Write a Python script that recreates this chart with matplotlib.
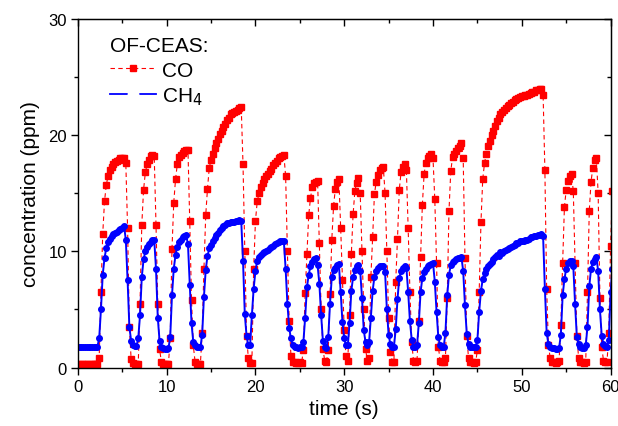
import numpy as np
import matplotlib
matplotlib.use("Agg")
import matplotlib.pyplot as plt
from matplotlib.lines import Line2D

plt.rcParams['font.family'] = ['Liberation Sans', 'DejaVu Sans']

# sampling step of both traces (s)
dt = 0.2

# CO trace (ppm), one value every dt starting at t = 0
co = [
    0.3, 0.3, 0.25, 0.3, 0.3, 0.3, 0.25, 0.3, 0.3, 0.3,
    0.3, 0.3, 0.8, 6.5, 11.5, 14.3, 15.7, 16.5, 17.0, 17.3,
    17.5, 17.7, 17.8, 17.9, 18.0, 18.0, 18.0, 17.6, 12.0, 3.5,
    0.7, 0.35, 0.3, 0.3, 0.3, 5.5, 12.3, 15.3, 16.8, 17.5,
    17.9, 18.2, 18.3, 18.2, 12.3, 5.5, 1.6, 0.5, 0.3, 0.3,
    0.3, 0.3, 2.5, 10.2, 14.2, 16.2, 17.5, 18.1, 18.3, 18.5,
    18.6, 18.7, 18.75, 12.6, 5.8, 1.9, 0.5, 0.3, 0.3, 0.3,
    3.0, 8.5, 13.1, 15.4, 17.2, 17.9, 18.4, 18.9, 19.3, 19.7,
    20.1, 20.4, 20.7, 21.0, 21.3, 21.5, 21.8, 21.9, 22.0, 22.1,
    22.2, 22.3, 22.4, 17.5, 10.0, 2.75, 0.8, 0.35, 0.4, 8.5,
    12.6, 14.3, 15.0, 15.5, 15.9, 16.2, 16.5, 16.7, 16.9, 17.1,
    17.4, 17.6, 17.8, 18.0, 18.1, 18.2, 18.3, 16.5, 10.0, 4.0,
    1.0, 0.5, 0.45, 0.4, 0.4, 0.45, 0.4, 1.5, 6.4, 9.8,
    13.1, 14.6, 15.5, 15.9, 16.0, 16.1, 10.7, 5.0, 1.6, 0.6,
    0.5, 1.5, 6.3, 11.0, 13.9, 15.4, 16.0, 16.2, 12.0, 7.5,
    3.2, 1.0, 0.6, 4.5, 9.8, 13.2, 15.2, 15.9, 16.3, 15.0,
    10.0, 5.0, 1.6, 0.6, 0.8, 7.8, 11.2, 14.9, 16.0, 16.6,
    17.0, 17.2, 17.3, 15.0, 10.0, 4.3, 1.3, 0.5, 0.5, 7.4,
    11.1, 15.3, 16.8, 17.3, 17.5, 17.0, 12.0, 6.5, 2.2, 0.6,
    0.5, 0.6, 4.0, 9.5, 14.0, 16.7, 17.6, 18.0, 18.2, 18.4,
    18.0, 14.5, 9.0, 1.8, 0.6, 0.5, 0.5, 0.8, 6.0, 13.5,
    16.9, 18.1, 18.4, 18.6, 18.9, 19.1, 19.3, 18.0, 9.4, 2.75,
    0.8, 0.45, 0.45, 0.4, 0.45, 1.5, 6.5, 12.5, 16.2, 17.6,
    18.4, 19.1, 19.5, 20.0, 20.4, 20.8, 21.2, 21.5, 21.8, 22.0,
    22.2, 22.35, 22.5, 22.6, 22.75, 22.9, 23.0, 23.1, 23.2, 23.25,
    23.35, 23.4, 23.45, 23.5, 23.55, 23.6, 23.7, 23.75, 23.85, 23.9,
    23.95, 24.0, 23.5, 17.0, 6.8, 1.9, 0.8, 0.45, 0.45, 0.4,
    0.45, 0.6, 3.7, 9.0, 13.8, 15.3, 16.1, 16.5, 16.65, 15.2,
    9.0, 2.75, 0.8, 0.45, 0.45, 0.4, 0.5, 6.5, 13.5, 16.0,
    17.2, 17.9, 18.0, 15.0, 6.0, 1.8, 0.6, 0.45, 0.5, 3.0,
    10.5, 15.2]

# CH4 trace (ppm), same time base
ch4 = [
    1.8, 1.75, 1.8, 1.8, 1.75, 1.8, 1.8, 1.75, 1.8, 1.8,
    1.8, 1.8, 2.5, 5.0, 8.0, 9.4, 10.3, 10.8, 11.1, 11.3,
    11.5, 11.6, 11.7, 11.8, 11.9, 12.0, 12.2, 11.0, 7.5, 3.5,
    2.3, 1.9, 1.85, 1.85, 2.5, 4.5, 7.8, 9.3, 10.0, 10.4,
    10.6, 10.8, 10.95, 11.0, 8.5, 4.3, 2.3, 1.8, 1.7, 1.6,
    1.6, 1.65, 2.6, 6.2, 8.5, 9.7, 10.4, 10.8, 11.0, 11.2,
    11.35, 11.4, 10.6, 7.1, 3.8, 2.2, 1.9, 1.75, 1.75, 1.75,
    2.8, 6.1, 8.4, 9.6, 10.25, 10.55, 10.85, 11.15, 11.45, 11.6,
    11.8, 12.0, 12.15, 12.3, 12.4, 12.45, 12.5, 12.5, 12.55, 12.6,
    12.65, 12.7, 12.6, 9.2, 4.6, 2.7, 1.9, 1.9, 4.5, 6.8,
    8.3, 9.2, 9.5, 9.7, 9.85, 9.95, 10.05, 10.15, 10.3, 10.4,
    10.5, 10.6, 10.7, 10.8, 10.85, 10.9, 10.85, 8.5, 5.5, 3.4,
    2.5, 1.9, 1.75, 1.75, 1.7, 1.75, 1.75, 2.2, 4.3, 6.9,
    8.0, 8.7, 9.05, 9.3, 9.4, 8.8, 7.2, 4.5, 2.3, 1.75,
    1.7, 2.6, 5.5, 7.8, 8.4, 8.6, 8.8, 8.9, 6.5, 3.9,
    2.5, 1.9, 1.9, 3.8, 6.6, 7.8, 8.4, 8.7, 8.8, 8.3,
    6.0, 3.2, 2.2, 1.9, 2.2, 4.3, 6.6, 7.8, 8.35, 8.6,
    8.7, 8.7, 8.7, 8.2, 5.05, 2.8, 2.0, 1.75, 1.8, 3.3,
    5.9, 7.7, 8.3, 8.6, 8.7, 8.6, 6.5, 4.0, 2.4, 1.8,
    1.75, 1.9, 3.8, 6.5, 7.7, 8.2, 8.5, 8.7, 8.8, 8.9,
    9.0, 7.4, 4.8, 2.6, 1.9, 1.75, 1.75, 3.0, 6.2, 8.0,
    8.8, 9.1, 9.2, 9.3, 9.4, 9.45, 9.5, 8.3, 5.35, 2.9,
    2.0, 1.8, 1.8, 1.75, 1.8, 2.4, 4.8, 6.6, 7.6, 8.1,
    8.5, 8.75, 8.9, 9.1, 9.3, 9.5, 9.65, 9.6, 9.95, 9.9,
    10.05, 10.1, 10.2, 10.3, 10.4, 10.5, 10.55, 10.7, 10.75, 10.85,
    10.9, 10.85, 10.95, 11.0, 11.1, 11.2, 11.2, 11.3, 11.35, 11.4,
    11.45, 11.5, 11.3, 6.8, 3.0, 2.0, 1.8, 1.7, 1.65, 1.6,
    1.6, 1.7, 2.8, 6.2, 7.6, 8.5, 9.0, 9.15, 9.2, 8.7,
    5.5, 2.6, 2.0, 1.8, 1.7, 1.65, 1.9, 3.5, 7.0, 8.5,
    9.1, 9.35, 9.5, 8.3, 5.0, 2.75, 2.0, 1.85, 1.8, 2.4,
    6.5, 8.5]

t = np.arange(len(co))*dt  # time axis of the samples (s)

xmajor = [0, 10, 20, 30, 40, 50, 60]
xminor = [5, 15, 25, 35, 45, 55]
ymajor = [0, 10, 20, 30]
yminor = [5, 15, 25]

fig = plt.figure(figsize=(6.18, 4.27), dpi=100)
ax = fig.add_axes([0.126, 0.137, 0.862, 0.816])

# CO first, CH4 drawn over it
ax.plot(t, co, color="#ff0000", lw=0.8, ls=(0, (4, 3)), marker="s",
        ms=3.9, mec="#ff0000", mfc="#ff0000")
ax.plot(t, ch4, color="#0000ff", lw=1.4, ls="-", marker="o",
        ms=4.0, mec="#0000ff", mfc="#0000ff")

ax.set_xlim(0, 60)
ax.set_ylim(0, 30)
ax.set_xticks(xmajor)
ax.set_xticks(xminor, minor=True)
ax.set_yticks(ymajor)
ax.set_yticks(yminor, minor=True)
ax.tick_params(which="both", direction="out", width=1.0, labelsize=12,
               top=False, right=False)
ax.tick_params(which="major", length=5, pad=3)
ax.tick_params(which="minor", length=3)
for sp in ax.spines.values():
    sp.set_linewidth(1.0)

# top and right axes carry inward ticks without labels
axt = ax.secondary_xaxis("top")
axt.set_xticks(xmajor)
axt.set_xticks(xminor, minor=True)
axt.tick_params(which="both", direction="in", labeltop=False, width=1.0)
axt.tick_params(which="major", length=5)
axt.tick_params(which="minor", length=3)
axr = ax.secondary_yaxis("right")
axr.set_yticks(ymajor)
axr.set_yticks(yminor, minor=True)
axr.tick_params(which="both", direction="in", labelright=False, width=1.0)
axr.tick_params(which="major", length=5)
axr.tick_params(which="minor", length=3)

ax.set_xlabel("time (s)", fontsize=15, labelpad=4)
ax.set_ylabel("concentration (ppm)", fontsize=15, labelpad=6)

# legend handles: CH4 line is broken around its marker as in the original
handles = [
    Line2D([], [], color="#ff0000", lw=0.8, ls=(0, (4, 3)), marker="s",
           ms=4, mec="#ff0000", mfc="#ff0000"),
    Line2D([], [], color="#0000ff", lw=1.3, ls="-", marker="o",
           ms=4, mec="white", mew=4.5, mfc="#0000ff"),
]
leg = ax.legend(handles, ["CO", "CH$_4$"], title="OF-CEAS:", loc="upper left",
                bbox_to_anchor=(0.06, 0.95), frameon=False, fontsize=15,
                title_fontsize=15, numpoints=1, handlelength=2.2,
                handletextpad=0.3, labelspacing=0.25, borderpad=0,
                borderaxespad=0, alignment="left")

fig.savefig("out.png", dpi=100)
